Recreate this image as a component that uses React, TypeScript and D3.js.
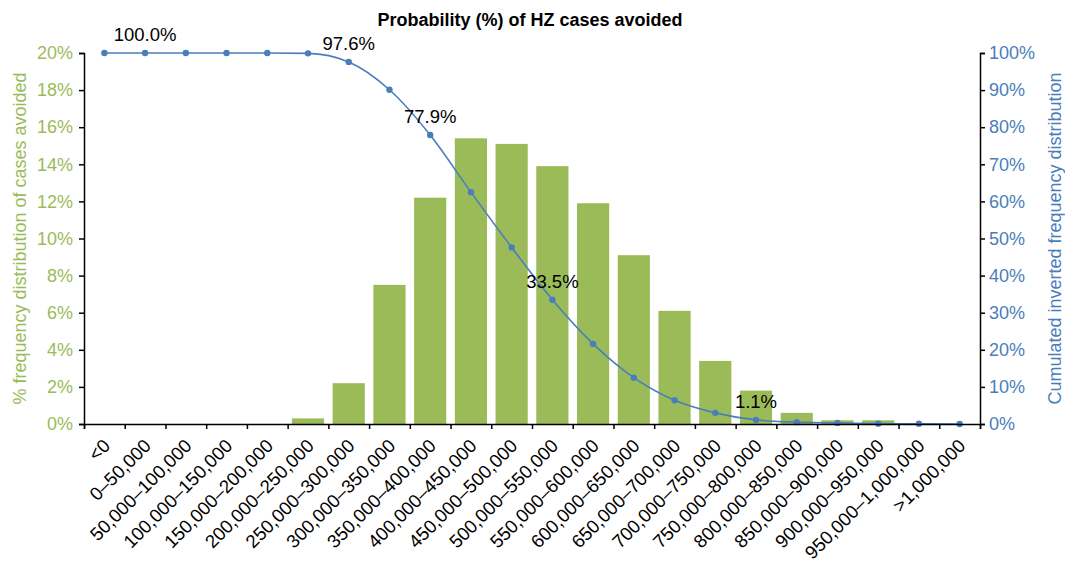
import {useEffect, useRef} from 'react';
import * as d3 from 'd3';

const categories = [
  '<0', '0–50,000', '50,000–100,000', '100,000–150,000', '150,000–200,000',
  '200,000–250,000', '250,000–300,000', '300,000–350,000', '350,000–400,000',
  '400,000–450,000', '450,000–500,000', '500,000–550,000', '550,000–600,000',
  '600,000–650,000', '650,000–700,000', '700,000–750,000', '750,000–800,000',
  '800,000–850,000', '850,000–900,000', '900,000–950,000', '950,000–1,000,000',
  '>1,000,000',
];

// % frequency distribution (bars, left axis)
const frequency = [0, 0, 0, 0, 0, 0.3, 2.2, 7.5, 12.2, 15.4, 15.1, 13.9, 11.9, 9.1, 6.1, 3.4, 1.8, 0.6, 0.2, 0.2, 0, 0];

// cumulated inverted distribution (line, right axis)
const cumulated = [100, 100, 100, 100, 100, 99.9, 97.6, 90.1, 77.9, 62.5, 47.6, 33.5, 21.6, 12.5, 6.4, 3.0, 1.1, 0.5, 0.3, 0.1, 0.05, 0];

// which points get a data label
const labelled = [1, 6, 8, 11, 16];

const leftTicks = [0, 2, 4, 6, 8, 10, 12, 14, 16, 18, 20];
const rightTicks = [0, 10, 20, 30, 40, 50, 60, 70, 80, 90, 100];

const GREEN = '#9BBB59';
const BLUE = '#4A7EBB';
const FONT = 'Arial, "Liberation Sans", Helvetica, sans-serif';

const App = () => {
  const svgRef = useRef<SVGSVGElement>(null);
  const width = 1065;
  const height = 564;

  useEffect(() => {
    const margin = {top: 53, right: 85, bottom: 140, left: 84};
    const innerWidth = width - margin.left - margin.right;
    const innerHeight = height - margin.top - margin.bottom;

    const svg = d3.select(svgRef.current);
    svg.selectAll('*').remove();

    const xScale = d3.scaleBand<string>()
      .domain(categories)
      .range([0, innerWidth])
      .paddingInner(0.21)
      .paddingOuter(0.105);

    const xLin = d3.scaleLinear().domain([0, categories.length]).range([0, innerWidth]);

    const yLeft = d3.scaleLinear().domain([0, 20]).range([innerHeight, 0]);
    const yRight = d3.scaleLinear().domain([0, 100]).range([innerHeight, 0]);

    const g = svg.append('g').attr('transform', `translate(${margin.left}, ${margin.top})`);

    // title
    svg.append('text')
      .attr('x', 530)
      .attr('y', 26)
      .attr('text-anchor', 'middle')
      .style('font-family', FONT)
      .style('font-weight', 'bold')
      .style('font-size', '18px')
      .text('Probability (%) of HZ cases avoided');

    // bars
    g.selectAll('.bar')
      .data(categories)
      .enter().append('rect')
      .attr('class', 'bar')
      .attr('x', d => xScale(d)!)
      .attr('width', xScale.bandwidth())
      .attr('y', (d, i) => yLeft(frequency[i]))
      .attr('height', (d, i) => innerHeight - yLeft(frequency[i]))
      .attr('fill', GREEN);

    // line
    const cx = (i: number) => xScale(categories[i])! + xScale.bandwidth() / 2;
    const line = d3.line<number>()
      .x((d, i) => cx(i))
      .y(d => yRight(d))
      .curve(d3.curveMonotoneX);

    g.append('path')
      .datum(cumulated)
      .attr('fill', 'none')
      .attr('stroke', BLUE)
      .attr('stroke-width', 1.6)
      .attr('d', line);

    g.selectAll('.point')
      .data(cumulated)
      .enter().append('circle')
      .attr('class', 'point')
      .attr('cx', (d, i) => cx(i))
      .attr('cy', d => yRight(d))
      .attr('r', 3.2)
      .attr('fill', BLUE);

    g.selectAll('.dlabel')
      .data(labelled)
      .enter().append('text')
      .attr('class', 'dlabel')
      .attr('x', i => cx(i))
      .attr('y', i => yRight(cumulated[i]) - 12)
      .attr('text-anchor', 'middle')
      .style('font-family', FONT)
      .style('font-size', '18.5px')
      .style('fill', '#000')
      .text(i => `${cumulated[i].toFixed(1)}%`);

    // left axis
    const leftAxis = g.append('g')
      .call(d3.axisLeft(yLeft).tickValues(leftTicks).tickFormat(d => `${d}%`).tickSize(5).tickPadding(6));
    leftAxis.selectAll('text')
      .style('font-family', FONT)
      .style('font-size', '18px')
      .style('fill', GREEN);

    // right axis
    const rightAxis = g.append('g')
      .attr('transform', `translate(${innerWidth}, 0)`)
      .call(d3.axisRight(yRight).tickValues(rightTicks).tickFormat(d => `${d}%`).tickSize(5).tickPadding(4));
    rightAxis.selectAll('text')
      .style('font-family', FONT)
      .style('font-size', '18px')
      .style('fill', BLUE);

    // x axis, ticks at category boundaries
    const xAxis = g.append('g')
      .attr('transform', `translate(0, ${innerHeight})`)
      .call(d3.axisBottom(xLin).tickValues(d3.range(categories.length + 1)).tickFormat(() => '').tickSize(5));

    [leftAxis, rightAxis, xAxis].forEach(a => {
      a.select('.domain').attr('stroke', '#000').attr('stroke-width', 1.5);
      a.selectAll('.tick line').attr('stroke', '#000').attr('stroke-width', 1.5);
    });

    // x labels
    g.selectAll('.xlabel')
      .data(categories)
      .enter().append('text')
      .attr('class', 'xlabel')
      .attr('transform', (d, i) => `translate(${cx(i) + 7}, ${innerHeight + 23}) rotate(-45)`)
      .attr('text-anchor', 'end')
      .style('font-family', FONT)
      .style('font-size', '18.6px')
      .style('fill', '#000')
      .text(d => d);

    // axis titles
    svg.append('text')
      .attr('transform', `translate(26, ${margin.top + innerHeight / 2}) rotate(-90)`)
      .attr('text-anchor', 'middle')
      .style('font-family', FONT)
      .style('font-size', '18px')
      .style('fill', GREEN)
      .text('% frequency distribution of cases avoided');

    svg.append('text')
      .attr('transform', `translate(1061, ${margin.top + innerHeight / 2}) rotate(-90)`)
      .attr('text-anchor', 'middle')
      .style('font-family', FONT)
      .style('font-size', '18px')
      .style('fill', BLUE)
      .text('Cumulated inverted frequency distribution');
  }, []);

  return (
    <div style={{position: 'absolute', left: 0, top: 0}}>
      <svg ref={svgRef} width={width} height={height} style={{background: '#fff', display: 'block'}} />
    </div>
  );
};

export default App;
